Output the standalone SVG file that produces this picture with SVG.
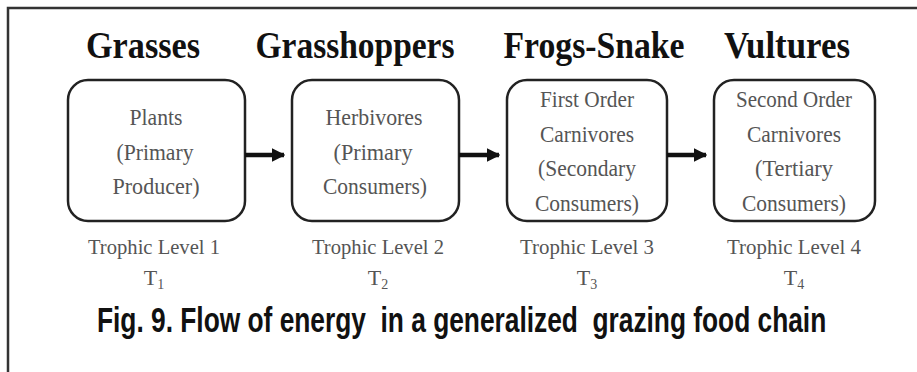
<svg xmlns="http://www.w3.org/2000/svg" width="917" height="372" viewBox="0 0 917 372">
<style>
.title{font-family:"Liberation Serif","Times New Roman",serif;font-weight:bold;font-size:38px;fill:#111;text-anchor:middle}
.inner{font-family:"Liberation Serif","Times New Roman",serif;font-size:23px;fill:#555;text-anchor:middle}
.lvl{font-family:"Liberation Serif","Times New Roman",serif;font-size:22px;fill:#555;text-anchor:middle}
.box{fill:#fff;stroke:#222;stroke-width:2.5}
.cap{font-family:"Liberation Sans",Arial,sans-serif;font-weight:bold;font-size:36px;fill:#111;white-space:pre}
</style>
<defs>
<marker id="ah" viewBox="0 0 10 10" refX="9" refY="5" markerWidth="3" markerHeight="3" orient="auto" markerUnits="strokeWidth">
<path d="M0,0 L10,5 L0,10 z" fill="#111"/>
</marker>
</defs>
<rect x="0" y="0" width="917" height="372" fill="#fff"/>
<rect x="8" y="8" width="930" height="380" fill="none" stroke="#333" stroke-width="2.5"/>
<g id="node1">
<text class="title" x="143" y="58" textLength="114" lengthAdjust="spacingAndGlyphs">Grasses</text>
<rect class="box" x="68" y="80" width="177" height="141" rx="20"/>
<text class="inner" x="156" y="125" textLength="53" lengthAdjust="spacingAndGlyphs">Plants</text>
<text class="inner" x="155" y="160" textLength="77" lengthAdjust="spacingAndGlyphs">(Primary</text>
<text class="inner" x="156" y="194" textLength="87" lengthAdjust="spacingAndGlyphs">Producer)</text>
<text class="lvl" x="154" y="254" textLength="132" lengthAdjust="spacingAndGlyphs">Trophic Level 1</text>
<text class="lvl" x="154" y="285">T<tspan font-size="14" dy="4">1</tspan></text>
</g>
<g id="node2">
<text class="title" x="355" y="58" textLength="199" lengthAdjust="spacingAndGlyphs">Grasshoppers</text>
<rect class="box" x="292" y="80" width="167" height="141" rx="20"/>
<text class="inner" x="374" y="125" textLength="97" lengthAdjust="spacingAndGlyphs">Herbivores</text>
<text class="inner" x="373" y="160" textLength="79" lengthAdjust="spacingAndGlyphs">(Primary</text>
<text class="inner" x="375" y="194" textLength="104" lengthAdjust="spacingAndGlyphs">Consumers)</text>
<text class="lvl" x="378" y="254" textLength="132" lengthAdjust="spacingAndGlyphs">Trophic Level 2</text>
<text class="lvl" x="378" y="285">T<tspan font-size="14" dy="4">2</tspan></text>
</g>
<g id="node3">
<text class="title" x="594" y="58" textLength="181" lengthAdjust="spacingAndGlyphs">Frogs-Snake</text>
<rect class="box" x="507" y="80" width="160" height="141" rx="20"/>
<text class="inner" x="587" y="107" textLength="94" lengthAdjust="spacingAndGlyphs">First Order</text>
<text class="inner" x="587" y="142" textLength="94" lengthAdjust="spacingAndGlyphs">Carnivores</text>
<text class="inner" x="587" y="176" textLength="98" lengthAdjust="spacingAndGlyphs">(Secondary</text>
<text class="inner" x="587" y="211" textLength="104" lengthAdjust="spacingAndGlyphs">Consumers)</text>
<text class="lvl" x="587" y="254" textLength="134" lengthAdjust="spacingAndGlyphs">Trophic Level 3</text>
<text class="lvl" x="587" y="285">T<tspan font-size="14" dy="4">3</tspan></text>
</g>
<g id="node4">
<text class="title" x="787" y="58" textLength="126" lengthAdjust="spacingAndGlyphs">Vultures</text>
<rect class="box" x="714" y="80" width="161" height="141" rx="20"/>
<text class="inner" x="794" y="107" textLength="116" lengthAdjust="spacingAndGlyphs">Second Order</text>
<text class="inner" x="794" y="142" textLength="94" lengthAdjust="spacingAndGlyphs">Carnivores</text>
<text class="inner" x="794" y="176" textLength="78" lengthAdjust="spacingAndGlyphs">(Tertiary</text>
<text class="inner" x="794" y="211" textLength="104" lengthAdjust="spacingAndGlyphs">Consumers)</text>
<text class="lvl" x="794" y="254" textLength="134" lengthAdjust="spacingAndGlyphs">Trophic Level 4</text>
<text class="lvl" x="794" y="285">T<tspan font-size="14" dy="4">4</tspan></text>
</g>
<g id="connectors" stroke="#111" stroke-width="4.5" fill="none">
<line x1="245" y1="155" x2="284" y2="155" marker-end="url(#ah)"/>
<line x1="459" y1="155" x2="499" y2="155" marker-end="url(#ah)"/>
<line x1="667" y1="155" x2="706" y2="155" marker-end="url(#ah)"/>
</g>
<text class="cap" transform="translate(97,332) scale(0.731,1)" x="0" y="0">Fig. 9. Flow of energy  in a generalized  grazing food chain</text>
</svg>
